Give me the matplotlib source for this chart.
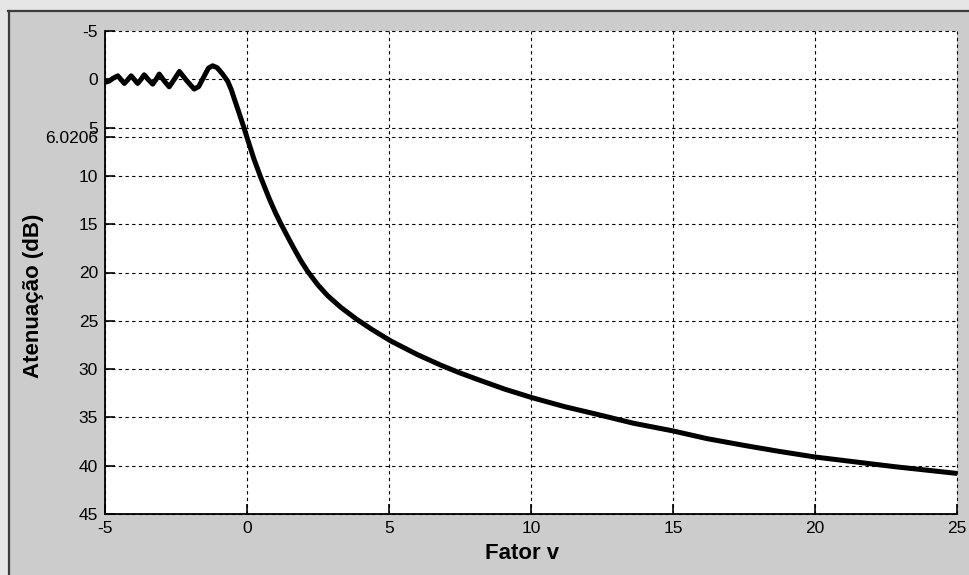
import matplotlib
matplotlib.use("Agg")
import matplotlib.pyplot as plt
from matplotlib.patches import Rectangle
from matplotlib.lines import Line2D

# values (knife-edge diffraction loss vs v)
fator_v = [-5.00, -4.86, -4.72, -4.55, -4.43, -4.32, -4.20, -4.08, -3.96, -3.85,
           -3.73, -3.62, -3.47, -3.32, -3.20, -3.09, -2.92, -2.74, -2.56, -2.38,
           -2.12, -1.86, -1.70, -1.53, -1.36, -1.21, -1.05, -0.86, -0.68, -0.55,
           -0.45, -0.30, -0.12, 0.00, 0.25, 0.49, 0.79, 1.00, 1.20, 1.45,
           1.67, 1.90, 2.14, 2.50, 2.84, 3.30, 3.84, 4.40, 5.07, 6.00,
           6.83, 7.50, 8.24, 9.10, 10.03, 11.20, 12.35, 13.60, 15.00, 16.20,
           17.51, 18.70, 20.00, 21.40, 22.80, 23.90, 25.00]
atenuacao = [0.30, 0.20, -0.10, -0.36, 0.05, 0.43, 0.05, -0.36, 0.05, 0.43,
             0.00, -0.47, 0.05, 0.50, 0.00, -0.54, 0.15, 0.78, 0.00, -0.81,
             0.15, 1.01, 0.75, -0.20, -1.15, -1.40, -1.20, -0.54, 0.20, 1.10,
             2.00, 3.30, 4.90, 6.02, 8.30, 10.20, 12.40, 13.80, 15.00, 16.40,
             17.60, 18.80, 19.90, 21.30, 22.40, 23.60, 24.80, 25.90, 27.10, 28.50,
             29.60, 30.40, 31.20, 32.10, 32.95, 33.90, 34.70, 35.60, 36.40, 37.20,
             37.90, 38.50, 39.10, 39.60, 40.10, 40.45, 40.80]

x_ticks = [-5, 0, 5, 10, 15, 20, 25]
y_ticks = [-5, 0, 5, 6.0206, 10, 15, 20, 25, 30, 35, 40, 45]
y_labels = ["-5", "0", "5", "6.0206", "10", "15", "20", "25", "30", "35", "40", "45"]

tick_font = ["Liberation Sans", "DejaVu Sans"]
label_font = ["Liberation Sans", "DejaVu Sans"]

fig = plt.figure(figsize=(9.7, 5.75), dpi=100)
fig.patch.set_facecolor("#cccccc")

# window-like frame: light strip outside a dark top/left border
fig.patches.append(Rectangle((0, 1 - 10 / 575), 1, 10 / 575, transform=fig.transFigure,
                             facecolor="#e6e6e6", edgecolor="none", zorder=-5))
fig.patches.append(Rectangle((0, 0), 8 / 970, 1, transform=fig.transFigure,
                             facecolor="#e6e6e6", edgecolor="none", zorder=-5))
fig.lines.append(Line2D([8.5 / 970, 1], [1 - 11 / 575] * 2, transform=fig.transFigure,
                        color="#3c3c3c", lw=1.6, zorder=-4))
fig.lines.append(Line2D([9 / 970] * 2, [0, 1 - 11 / 575], transform=fig.transFigure,
                        color="#3c3c3c", lw=1.6, zorder=-4))

ax = fig.add_axes([105 / 970, 1 - 514 / 575, 852 / 970, 483 / 575])
ax.set_facecolor("white")

ax.plot(fator_v, atenuacao, color="black", lw=3.6, solid_joinstyle="round",
        solid_capstyle="round", zorder=3)

ax.set_xlim(-5, 25)
ax.set_ylim(45, -5)
ax.set_xticks(x_ticks)
ax.set_xticklabels([str(t) for t in x_ticks], family=tick_font, fontsize=12.5)
ax.set_yticks(y_ticks)
ax.set_yticklabels(y_labels, family=tick_font, fontsize=12.5)
ax.tick_params(direction="in", length=7, width=1.2, pad=5, colors="black")

ax.grid(True, color="black", lw=0.8, linestyle=(0, (3, 3)))
for gl in ax.get_xgridlines() + ax.get_ygridlines():
    gl.set_clip_on(False)

ax.spines["top"].set_visible(False)
ax.spines["right"].set_visible(False)
ax.spines["left"].set_linewidth(1.3)
ax.spines["bottom"].set_linewidth(1.3)

ax.set_xlabel("Fator v", family=label_font, fontsize=16, fontweight="bold")
ax.set_ylabel("Atenuação (dB)", family=label_font, fontsize=16, fontweight="bold")
ax.xaxis.set_label_coords(0.49, -0.06)
ax.yaxis.set_label_coords(-0.072, 0.451)

plt.savefig("out.png", dpi=100)
